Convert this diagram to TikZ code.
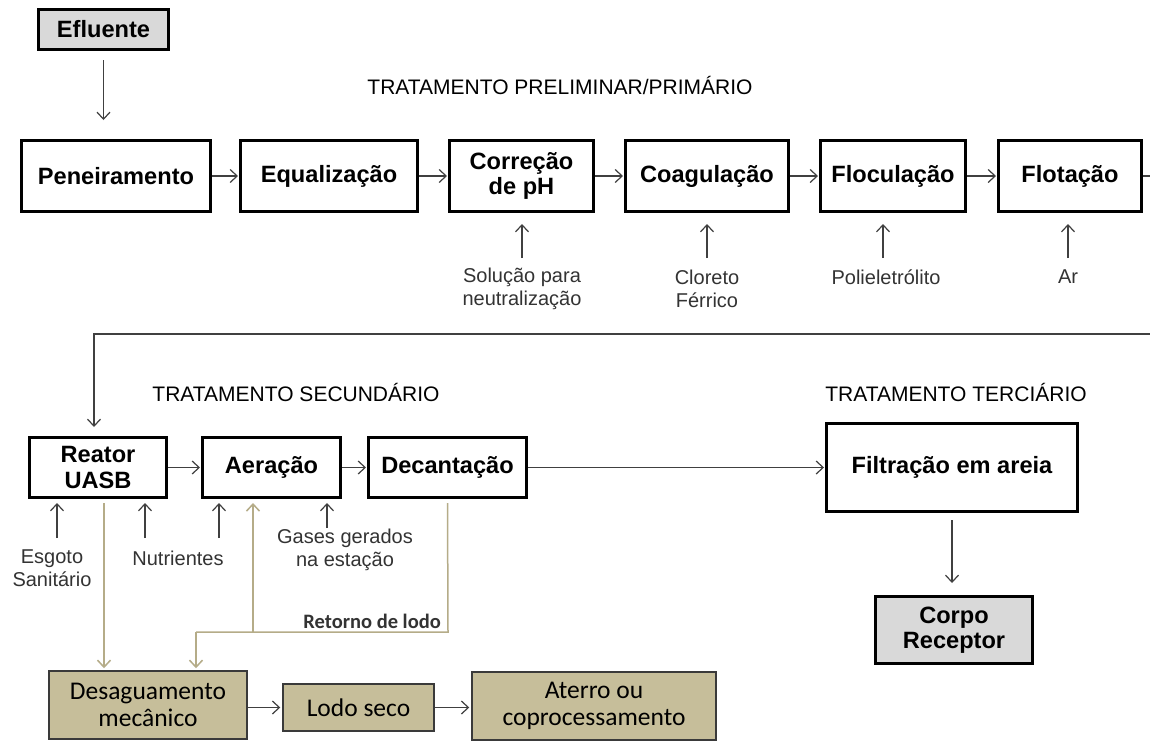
\documentclass[tikz,border=0pt]{standalone}
\usepackage{fontspec}
\setmainfont{Liberation Sans}
\newfontfamily\carl{Carlito}
\usetikzlibrary{arrows.meta}
\definecolor{grayfill}{HTML}{D9D9D9}
\definecolor{tanfill}{HTML}{C6BE9A}
\definecolor{tanline}{HTML}{B5AC88}
\definecolor{tanborder}{HTML}{3A3A3A}
\definecolor{arrgray}{HTML}{404040}
\definecolor{labgray}{HTML}{333333}
\begin{document}
\begin{tikzpicture}[x=1pt,y=-1pt,
 box/.style={draw=black, line width=3pt, fill=white, inner sep=0pt, align=center,
   font=\fontsize{23.6}{25.5}\selectfont\bfseries},
 gbox/.style={box, fill=grayfill},
 tbox/.style={draw=tanborder, line width=1.5pt, fill=tanfill, inner sep=0pt, align=center,
   font=\carl\fontsize{25.5}{27}\selectfont},
 lab/.style={inner sep=0pt, align=center, font=\fontsize{20}{23}\selectfont, text=labgray},
 ttl/.style={inner sep=0pt, font=\fontsize{21}{24}\selectfont},
 arr/.style={draw=arrgray, line width=1.2pt, -{Straight Barb[length=7pt,width=13pt,line width=1.2pt]}},
 pline/.style={draw=arrgray, line width=1.2pt},
 tline/.style={draw=tanline, line width=1.5pt},
 tarr/.style={tline, -{Straight Barb[length=7pt,width=13pt,line width=1.5pt]}},
]
\useasboundingbox[fill=white] (0,0) rectangle (1150,745);

% titles
\node[ttl] (t1) at (560,85) {TRATAMENTO PRELIMINAR/PRIMÁRIO};
\node[ttl] (t2) at (296,392) {TRATAMENTO SECUNDÁRIO};
\node[ttl] (t3) at (956,392) {TRATAMENTO TERCIÁRIO};

% row 1
\node[gbox, minimum width=130pt, minimum height=40pt] (eff) at (103.5,29.5) {Efluente};
\node[box, minimum width=189pt, minimum height=71pt] (pen) at (116,176) {Peneiramento};
\node[box, minimum width=177pt, minimum height=71pt] (equ) at (329,176) {Equalização};
\node[box, minimum width=144pt, minimum height=71pt] (cor) at (521.5,176) {Correção\\de pH};
\node[box, minimum width=163pt, minimum height=71pt] (coa) at (707,176) {Coagulação};
\node[box, minimum width=145pt, minimum height=71pt] (flo) at (893,176) {Floculação};
\node[box, minimum width=143pt, minimum height=71pt] (flt) at (1070,176) {Flotação};

\draw[arr, shorten <=9pt, shorten >=19pt] (eff.south) -- (eff.south |- pen.north);
\draw[arr, shorten >=1pt] (pen.east) -- (equ.west);
\draw[arr, shorten >=1pt] (equ.east) -- (cor.west);
\draw[arr, shorten >=1pt] (cor.east) -- (coa.west);
\draw[arr, shorten >=1pt] (coa.east) -- (flo.west);
\draw[arr, shorten >=1pt] (flo.east) -- (flt.west);

\node[lab] (l1) at (522,289) {Solução para\\neutralização};
\node[lab] (l2) at (707,289) {Cloreto\\Férrico};
\node[lab] (l3) at (886,277) {Polieletrólito};
\node[lab] (l4) at (1068,277) {Ar};
\coordinate (a1) at (522,258);
\coordinate (a2) at (707,258);
\coordinate (a3) at (883,258);
\coordinate (a4) at (1068,258);
\draw[arr, shorten >=11pt] (a1) -- (a1 |- cor.south);
\draw[arr, shorten >=11pt] (a2) -- (a2 |- coa.south);
\draw[arr, shorten >=11pt] (a3) -- (a3 |- flo.south);
\draw[arr, shorten >=11pt] (a4) -- (a4 |- flt.south);

% link row 1 -> row 2
\coordinate (r1) at (1150,176);
\coordinate (r2) at (1150,334);
\coordinate (r3) at (94,334);
\draw[pline] (flt.east) -- (r1);

% row 2
\node[box, minimum width=137pt, minimum height=60pt] (rea) at (98,467.5) {Reator\\UASB};
\node[box, minimum width=138pt, minimum height=60pt] (aer) at (271.5,467.5) {Aeração};
\node[box, minimum width=158pt, minimum height=60pt] (dec) at (447.5,467.5) {Decantação};
\node[box, minimum width=251pt, minimum height=88pt] (fil) at (952,467.5) {Filtração em areia};
\node[gbox, minimum width=157pt, minimum height=67pt] (rec) at (954,630) {Corpo\\Receptor};

\draw[arr, shorten >=9pt] (r2) -- (r3) -- (r3 |- rea.north);
\draw[arr, shorten >=1pt] (rea.east) -- (aer.west);
\draw[arr, shorten >=1pt] (aer.east) -- (dec.west);
\draw[arr, shorten >=1pt] (dec.east) -- (fil.west);
\draw[arr, shorten <=7pt, shorten >=12pt] (fil.south) -- (fil.south |- rec.north);

\node[lab] (e1) at (52,568.5) {Esgoto\\Sanitário};
\node[lab] (e2) at (178,558) {Nutrientes};
\node[lab] (e3) at (345,550) {Gases gerados\\na estação};
\coordinate (b1) at (57,538);
\coordinate (b2) at (145,538);
\coordinate (b3) at (219,538);
\coordinate (b4) at (327,528);
\draw[arr, shorten >=4pt] (b1) -- (b1 |- rea.south);
\draw[arr, shorten >=4pt] (b2) -- (b2 |- rea.south);
\draw[arr, shorten >=4pt] (b3) -- (b3 |- aer.south);
\draw[arr, shorten >=4pt] (b4) -- (b4 |- aer.south);

% sludge line
\node[tbox, minimum width=198pt, minimum height=68pt] (des) at (148,705) {Desaguamento\\mecânico};
\node[tbox, minimum width=151pt, minimum height=47pt] (lod) at (358.5,707.5) {Lodo seco};
\node[tbox, minimum width=244pt, minimum height=68pt] (ate) at (594,706) {Aterro ou\\coprocessamento};

\coordinate (s0) at (104,503);
\coordinate (j1) at (448,632);
\coordinate (j2) at (196,632);
\coordinate (j3) at (253,632);
\draw[tarr, shorten >=2pt] (s0) -- (s0 |- des.north);
\draw[tline, shorten <=4pt] (dec.south) -- (j1) -- (j2);
\draw[tarr, shorten >=2pt] (j2) -- (j2 |- des.north);
\draw[tarr, shorten >=4pt] (j3) -- (j3 |- aer.south);
\node[inner sep=0pt, anchor=east, font=\carl\bfseries\fontsize{20.5}{22}\selectfont, text=labgray] (ret) at (441,621) {Retorno de lodo};

\draw[arr, shorten >=2pt] (lod.west -| des.east) -- (lod.west);
\draw[arr, shorten >=2pt] (lod.east) -- (lod.east -| ate.west);
\end{tikzpicture}
\end{document}
